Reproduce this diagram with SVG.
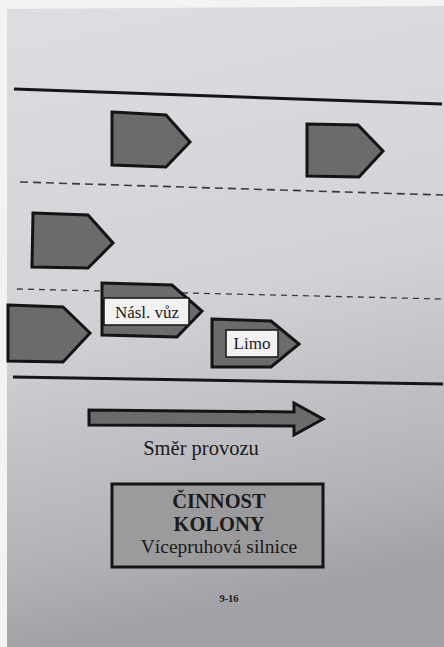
<svg xmlns="http://www.w3.org/2000/svg" width="444" height="647" viewBox="0 0 444 647">
<defs>
<linearGradient id="page" x1="0" y1="0" x2="0.15" y2="1">
<stop offset="0" stop-color="#dedde1"/>
<stop offset="0.5" stop-color="#d3d2d6"/>
<stop offset="0.85" stop-color="#b4b4b8"/>
<stop offset="1" stop-color="#a0a0a5"/>
</linearGradient>
<style>
.car{fill:#6b6b6d;stroke:#141414;stroke-width:3;stroke-linejoin:miter}
.label{fill:#f2f2f2;stroke:#141414;stroke-width:1.5}
.lt{font-family:"Liberation Serif","Times New Roman",serif;font-size:17px;fill:#1a1a1a;text-anchor:middle}
.solid{stroke:#161616;stroke-width:3;fill:none}
.dash{stroke:#3a3a3c;fill:none}
.serif{font-family:"Liberation Serif","Times New Roman",serif;fill:#1a1a1a;text-anchor:middle}
</style>
</defs>
<rect x="0" y="0" width="444" height="647" fill="#f3f3f4"/>
<polygon points="7,9 444,6 444,647 7,647" fill="url(#page)"/>
<g id="road">
<line class="solid" x1="14" y1="89" x2="442" y2="104"/>
<line class="dash" x1="20" y1="182" x2="443" y2="195" stroke-width="1.6" stroke-dasharray="8 5"/>
<line class="dash" x1="17" y1="289" x2="443" y2="299" stroke-width="1.3" stroke-dasharray="6 5"/>
<line class="solid" x1="13" y1="377" x2="443" y2="384"/>
</g>
<g id="car1"><polygon class="car" points="112,112 166,115 190,142 166,167 112,165"/></g>
<g id="car2"><polygon class="car" points="307,124 358,125 383,151 359,177 307,176"/></g>
<g id="car3"><polygon class="car" points="33,213 88,215 113,243 88,268 32,267"/></g>
<g id="car4"><polygon class="car" points="8,305 63,307 90,333 63,362 8,361"/></g>
<g id="nasl-vuz">
<polygon class="car" points="102,283 172,285 202,311 177,337 102,335"/>
<rect class="label" x="104" y="298" width="85" height="27"/>
<text class="lt" x="147" y="318">Násl. vůz</text>
</g>
<g id="limo">
<polygon class="car" points="212,319 271,321 299,344 271,367 212,367"/>
<rect class="label" x="226" y="330" width="52" height="27"/>
<text class="lt" x="252" y="349">Limo</text>
</g>
<g id="direction">
<polygon class="car" stroke-width="2.5" points="89,410 294,412 294,403 323,419 294,435 294,426 89,425"/>
<text class="serif" x="201" y="455" font-size="20.5">Směr provozu</text>
</g>
<g id="title-box">
<rect x="112" y="484" width="211" height="83" fill="#9b9b9d" stroke="#141414" stroke-width="3"/>
<text class="serif" x="219" y="508" font-size="20.5" font-weight="bold">ČINNOST</text>
<text class="serif" x="219" y="531" font-size="20.5" font-weight="bold">KOLONY</text>
<text class="serif" x="219" y="553" font-size="19.5">Vícepruhová silnice</text>
</g>
<text class="serif" x="229" y="602" font-size="10.5" font-weight="bold">9-16</text>
</svg>
